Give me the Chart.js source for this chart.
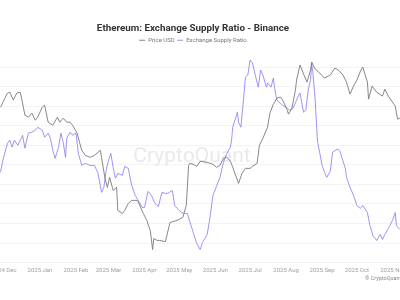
<!DOCTYPE html>
<html>
<head>
<meta charset="utf-8">
<script src="https://cdn.jsdelivr.net/npm/chart.js@4.4.1/dist/chart.umd.min.js"></script>
<style>
  html, body { margin: 0; padding: 0; background: #fff; overflow: hidden; }
  #wrap { position: absolute; left: -47px; top: 0; width: 480px; height: 300px; }
</style>
</head>
<body>
<div id="wrap"><canvas id="chart"></canvas></div>
<script>
// x values are days counted from 2024-12-01
const monthDays = [0, 31, 62, 90, 121, 151, 182, 212, 243, 274, 304, 335];
const monthLabels = ['2024 Dec', '2025 Jan', '2025 Feb', '2025 Mar', '2025 Apr', '2025 May',
  '2025 Jun', '2025 Jul', '2025 Aug', '2025 Sep', '2025 Oct', '2025 Nov'];

// Price USD (log scale)
const priceDays = [-3, 0, 3, 5, 8, 11, 14, 16, 18, 21, 24, 27, 29, 33, 35, 38, 42, 46, 48, 51,
  54, 57, 59, 63, 65, 67, 70, 74, 78, 83, 84, 87, 89, 91, 94, 97, 98, 102, 104, 107,
  110, 113, 115, 120, 123, 126, 128, 129, 132, 134, 139, 143, 149, 154, 157, 159, 160, 163, 166, 169,
  175, 180, 183, 186, 189, 192, 195, 197, 202, 205, 208, 212, 214, 218, 220, 223, 227, 229, 232, 235,
  238, 240, 244, 245, 248, 251, 252, 255, 258, 261, 264, 265, 268, 272, 276, 281, 285, 288, 292, 295,
  298, 301, 304, 307, 309, 313, 314, 317, 321, 326, 328, 331, 334, 337, 339, 341];
const priceUsd = [3700, 3872, 4051, 4077, 3872, 4051, 4077, 3797, 3514, 3469, 3560, 3402, 3469, 3701, 3749, 3359, 3294, 3469, 3359, 3447,
  3359, 3359, 3294, 3129, 2952, 2803, 2714, 2679, 2714, 2803, 2679, 2339, 2207, 2355, 2165, 2207, 1903, 1866, 1903, 1991,
  2030, 2030, 2030, 1866, 1784, 1672, 1479, 1588, 1568, 1568, 1557, 1761, 1784, 1819, 1965, 2544, 2577, 2561, 2528, 2611,
  2594, 2561, 2512, 2544, 2662, 2679, 2611, 2512, 2265, 2416, 2495, 2495, 2528, 2577, 2895, 3029, 3252, 3560, 3773, 3922,
  3948, 3872, 3629, 3537, 3677, 4130, 4406, 4854, 4580, 4349, 4699, 4949, 4730, 4609, 4463, 4550, 4761, 4699, 4550, 4349,
  4025, 4238, 4406, 4669, 4791, 4349, 3897, 4238, 4077, 3973, 4157, 3973, 3847, 3724, 3425, 3447];

// Exchange Supply Ratio
const ratioDays = [-3, -1, 3, 5, 7, 9, 12, 16, 18, 21, 24, 27, 29, 33, 35, 38, 40, 42, 44, 47,
  49, 51, 53, 54, 57, 59, 62, 64, 67, 70, 74, 78, 81, 84, 86, 88, 90, 92, 94, 96,
  98, 102, 104, 107, 110, 113, 115, 119, 121, 124, 127, 130, 133, 136, 139, 141, 145, 147, 150, 153,
  156, 158, 160, 163, 166, 169, 171, 175, 177, 180, 183, 186, 189, 192, 195, 196, 197, 201, 202, 204,
  206, 208, 210, 212, 214, 216, 219, 221, 223, 226, 227, 230, 232, 233, 235, 238, 240, 244, 246, 249,
  252, 253, 255, 258, 260, 262, 264, 265, 266, 268, 270, 272, 274, 276, 278, 281, 283, 287, 289, 291,
  294, 295, 298, 301, 304, 307, 309, 313, 315, 318, 320, 321, 324, 326, 328, 331, 332, 335, 337, 338, 341];
const ratioValues = [0.03062, 0.03123, 0.0321, 0.03226, 0.0319, 0.03226, 0.032, 0.03251, 0.03185, 0.03262,
  0.03267, 0.03277, 0.03292, 0.03277, 0.03241, 0.03262, 0.03236, 0.03174, 0.03133, 0.0319,
  0.03262, 0.03215, 0.03138, 0.03236, 0.03267, 0.03251, 0.03262, 0.03159, 0.03097, 0.03108,
  0.03097, 0.03097, 0.03056, 0.02959, 0.02985, 0.03072, 0.03123, 0.03159, 0.03087, 0.03031,
  0.03056, 0.03046, 0.03092, 0.03082, 0.02995, 0.02944, 0.02923, 0.02882, 0.02882, 0.02964,
  0.02944, 0.02903, 0.02887, 0.02959, 0.02954, 0.02954, 0.02969, 0.02892, 0.02872, 0.02856,
  0.02851, 0.02851, 0.0281, 0.02754, 0.02697, 0.02667, 0.02703, 0.02744, 0.02815, 0.02944,
  0.0299, 0.03036, 0.03113, 0.03159, 0.0319, 0.03226, 0.03292, 0.03369, 0.03318, 0.03292,
  0.03415, 0.03549, 0.03559, 0.03636, 0.03621, 0.03569, 0.03497, 0.03585, 0.03559, 0.03497,
  0.03518, 0.03497, 0.03544, 0.03497, 0.03431, 0.03415, 0.03405, 0.0339, 0.0338, 0.0339,
  0.03431, 0.03446, 0.03467, 0.03369, 0.0338, 0.03482, 0.03533, 0.03615, 0.03574, 0.03431,
  0.03221, 0.03159, 0.03097, 0.03062, 0.03036, 0.03067, 0.03164, 0.0318, 0.03174, 0.03138,
  0.03082, 0.03036, 0.02985, 0.02944, 0.02892, 0.02877, 0.02892, 0.02856, 0.02795, 0.02733,
  0.02723, 0.02713, 0.02744, 0.02718, 0.02744, 0.02774, 0.02785, 0.02821, 0.02856, 0.0279,
  0.02769];

// watermark + copyright
const cqText = {
  id: 'cqText',
  beforeDatasetsDraw(chart) {
    const ctx = chart.ctx;
    ctx.save();
    ctx.font = '21px Roboto';
    ctx.fillStyle = '#e9e9ee';
    ctx.textAlign = 'center';
    ctx.textBaseline = 'middle';
    ctx.fillText('CryptoQuant', 239, 157);
    ctx.restore();
  },
  afterDraw(chart) {
    const ctx = chart.ctx;
    ctx.save();
    ctx.font = '5.5px Roboto';
    ctx.fillStyle = '#888';
    ctx.textAlign = 'left';
    ctx.textBaseline = 'middle';
    ctx.fillText('\u00a9 CryptoQuant. All Rights Reserved.', 412, 279);
    ctx.restore();
  }
};

new Chart(document.getElementById('chart'), {
  type: 'line',
  data: {
    datasets: [
      {
        label: 'Price USD',
        data: priceDays.map((d, i) => ({ x: d, y: priceUsd[i] })),
        yAxisID: 'yPrice',
        borderColor: '#7a7a7a',
        borderWidth: 0.9,
        pointRadius: 0,
        tension: 0
      },
      {
        label: 'Exchange Supply Ratio',
        data: ratioDays.map((d, i) => ({ x: d, y: ratioValues[i] })),
        yAxisID: 'y',
        borderColor: 'rgba(140, 130, 245, 0.85)',
        borderWidth: 1,
        pointRadius: 0,
        tension: 0
      }
    ]
  },
  options: {
    responsive: true,
    maintainAspectRatio: false,
    animation: false,
    layout: { padding: { top: 0, bottom: 22.2, left: 0, right: 0 } },
    plugins: {
      title: {
        display: true,
        text: 'Ethereum: Exchange Supply Ratio - Binance',
        color: '#333',
        font: { family: 'Roboto', size: 9.8, weight: 'bold' },
        padding: { top: 23, bottom: 0 }
      },
      legend: {
        display: true,
        labels: {
          color: '#777',
          font: { family: 'Roboto', size: 6 },
          usePointStyle: true,
          pointStyle: 'line',
          pointStyleWidth: 6,
          boxWidth: 6,
          boxHeight: 6,
          padding: 2.5
        }
      },
      tooltip: { enabled: false }
    },
    scales: {
      x: {
        type: 'linear',
        min: -43.93,
        max: 369.5,
        afterBuildTicks: axis => { axis.ticks = monthDays.map(v => ({ value: v })); },
        ticks: {
          autoSkip: false,
          maxRotation: 0,
          padding: 4,
          color: '#a0a0a0',
          font: { family: 'Roboto', size: 6 },
          callback: v => monthLabels[monthDays.indexOf(v)]
        },
        grid: { display: false, drawTicks: false },
        border: { display: false }
      },
      y: {
        type: 'linear',
        position: 'right',
        min: 0.026,
        max: 0.036705,
        ticks: { display: false, stepSize: 0.001 },
        grid: {
          drawTicks: false,
          color: ctx => ctx.tick && ctx.tick.value > 0.0365 ? 'rgba(0,0,0,0)' : '#f3f3f3'
        },
        border: { display: false }
      },
      yPrice: {
        type: 'logarithmic',
        position: 'left',
        display: false,
        min: 1360,
        max: 5236
      }
    }
  },
  plugins: [cqText]
});
</script>
</body>
</html>
